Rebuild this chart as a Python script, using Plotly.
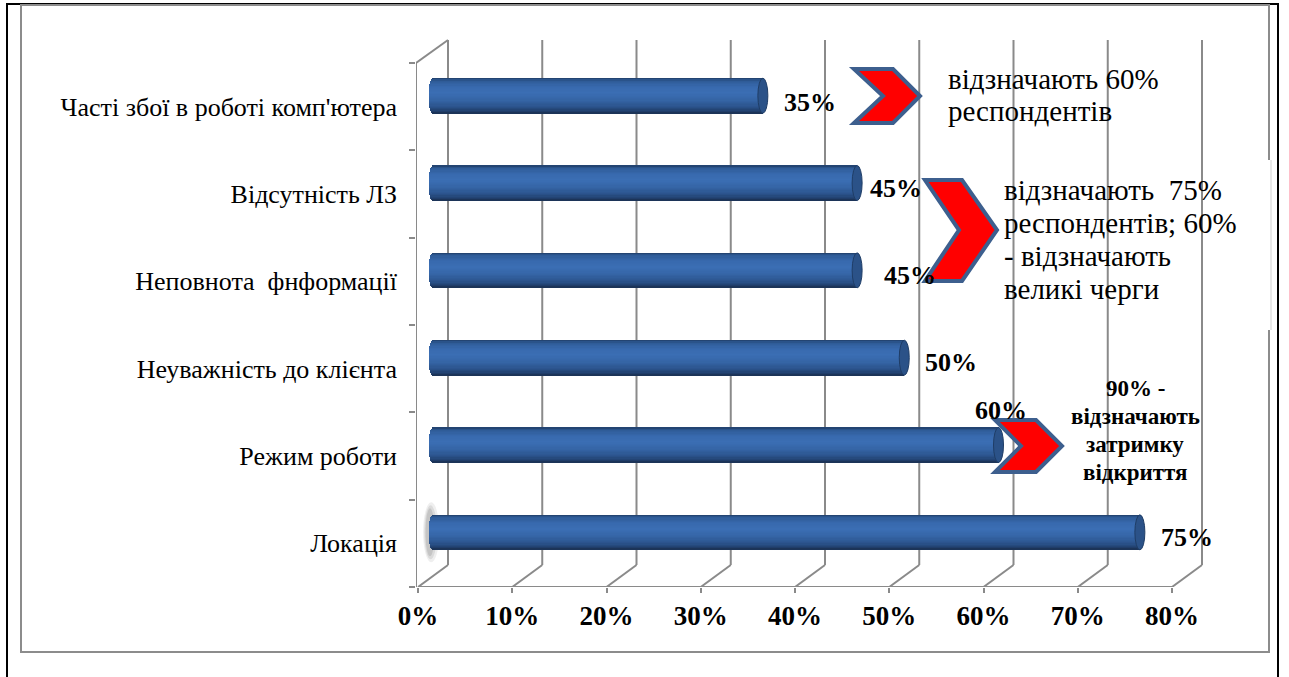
import numpy as np
import plotly.graph_objects as go

# ---------------------------------------------------------------- data
categories = [
    "Локація",
    "Режим роботи",
    "Неуважність до клієнта",
    "Неповнота\u00a0 фнформації",
    "Відсутність ЛЗ",
    "Часті збої в роботі комп'ютера",
]
values = [75, 60, 50, 45, 45, 35]
x_ticks = [0, 10, 20, 30, 40, 50, 60, 70, 80]
x_tick_labels = [f"{t}%" for t in x_ticks]

note_top = ["відзначають 60%", "респондентів"]
note_mid = ["відзначають\u00a0 75%", "респондентів; 60%", "- відзначають", "великі черги"]
note_low = ["90% -", "відзначають", "затримку", "відкриття"]

# ---------------------------------------------------------------- layout geometry (pixels)
W, H = 1289, 677
PL, PR, PT, PB = 416, 1262, 30, 587          # plot area
X0_PX, PX_PER_PCT = 418, 9.425               # 0% on the front floor edge
PX_PER_CAT = 87.33
XMIN = (PL - X0_PX) / PX_PER_PCT
XMAX = (PR - X0_PX) / PX_PER_PCT
YMAX = (PB - PT) / PX_PER_CAT
DX = 30 / PX_PER_PCT                         # 3-D depth, x direction
DY = 22 / PX_PER_CAT                         # 3-D depth, y direction
WALL_TOP = (PB - 40) / PX_PER_CAT
N_CAT = len(categories)

BASE = DX / 2                                # bars sit at mid depth
BAR_H = 35 / PX_PER_CAT
CAP_L = 4.5 / PX_PER_PCT
CAP_R = 5.0 / PX_PER_PCT
bar_y = [i + 0.5 + DY / 2 for i in range(N_CAT)]

GRID = "#8a8a8a"
SERIF = "Liberation Serif, Times New Roman, serif"


def pxx(px):
    return (px - PL) / (PR - PL)


def pxy(py):
    return (PB - py) / (PB - PT)


def hex2rgb(h):
    h = h.lstrip("#")
    return np.array([int(h[i:i + 2], 16) for i in (0, 2, 4)], float)


# cylinder shading, top -> bottom
grad_pos = [0.0, 0.07, 0.25, 0.42, 0.62, 0.82, 0.94, 1.0]
grad_col = ["#1f3c66", "#2e5a95", "#386aae", "#3b6eb4", "#3565a6", "#2b538c", "#213f6c", "#1a3050"]
grad_rgb = np.array([hex2rgb(c) for c in grad_col])


def shade(t):
    r = [np.interp(t, grad_pos, grad_rgb[:, k]) for k in range(3)]
    return "rgb(%d,%d,%d)" % tuple(int(round(v)) for v in r)


fig = go.Figure()

N_STRIP = 28
hs = BAR_H / N_STRIP
for i in range(N_STRIP):
    yrel = BAR_H / 2 - (i + 0.5) * hs
    f = yrel / (BAR_H / 2)
    ext = CAP_L * np.sqrt(max(0.0, 1 - f * f))
    fig.add_trace(go.Bar(
        orientation="h",
        y=bar_y,
        x=[v + ext for v in values],
        base=[BASE - ext] * N_CAT,
        width=hs * 1.25,
        offset=yrel - hs * 0.625,
        marker=dict(color=shade((i + 0.5) / N_STRIP), line=dict(width=0)),
        hoverinfo="skip",
        showlegend=False,
    ))

shapes = []

# soft shadow behind the left end of the lowest cylinder
for a, b, op in [(9, 30, 0.10), (7, 27, 0.14), (5, 24, 0.18)]:
    shapes.append(dict(
        type="circle", xref="x", yref="y", layer="below",
        x0=BASE - CAP_L - a / PX_PER_PCT * 0.6, x1=BASE - CAP_L + a / PX_PER_PCT * 1.2,
        y0=bar_y[0] - b / PX_PER_CAT, y1=bar_y[0] + b / PX_PER_CAT,
        fillcolor="#666666", opacity=op, line=dict(width=0),
    ))

# 3-D floor and back wall grid
for t in x_ticks:
    shapes.append(dict(type="line", xref="x", yref="y", layer="below",
                       x0=t, y0=0, x1=t + DX, y1=DY, line=dict(color=GRID, width=2)))
    shapes.append(dict(type="line", xref="x", yref="y", layer="below",
                       x0=t + DX, y0=DY, x1=t + DX, y1=WALL_TOP, line=dict(color=GRID, width=2)))
shapes.append(dict(type="line", xref="x", yref="y", layer="below",
                   x0=0, y0=0, x1=x_ticks[-1], y1=0, line=dict(color=GRID, width=2)))
shapes.append(dict(type="line", xref="x", yref="y", layer="below",
                   x0=XMIN, y0=0, x1=XMIN, y1=N_CAT, line=dict(color=GRID, width=2)))
shapes.append(dict(type="line", xref="x", yref="y", layer="below",
                   x0=XMIN, y0=N_CAT, x1=DX, y1=WALL_TOP, line=dict(color=GRID, width=2)))

# outer frames
shapes.append(dict(type="rect", xref="paper", yref="paper", layer="below",
                   x0=pxx(7), x1=pxx(1278), y0=pxy(700), y1=pxy(4),
                   line=dict(color="black", width=2), fillcolor="rgba(0,0,0,0)"))
shapes.append(dict(type="rect", xref="paper", yref="paper", layer="below",
                   x0=pxx(21), x1=pxx(1269), y0=pxy(652), y1=pxy(5),
                   line=dict(color="#8c8c8c", width=2), fillcolor="rgba(0,0,0,0)"))

# white text boxes over the grid
for (x0, y0, x1, y1) in [(926, 48, 1266, 152), (926, 160, 1273, 330), (1022, 364, 1215, 511)]:
    shapes.append(dict(type="rect", xref="paper", yref="paper", layer="below",
                       x0=pxx(x0), x1=pxx(x1), y0=pxy(y1), y1=pxy(y0),
                       line=dict(width=0), fillcolor="white"))
shapes.append(dict(type="line", xref="paper", yref="paper", layer="below",
                   x0=pxx(1271), x1=pxx(1271), y0=pxy(330), y1=pxy(160),
                   line=dict(color="#d0d0d0", width=1)))

# cylinder end faces
for v, yc in zip(values, bar_y):
    shapes.append(dict(type="circle", xref="x", yref="y", layer="above",
                       x0=BASE + v - CAP_R, x1=BASE + v + CAP_R,
                       y0=yc - BAR_H / 2, y1=yc + BAR_H / 2,
                       fillcolor="#2b5288", line=dict(color="#1f3d66", width=1)))


# chevron callout arrows
def chevron(x_left, x_top, x_tip, x_notch, y_top, y_mid, y_bot):
    pts = [(x_left, y_top), (x_top, y_top), (x_tip, y_mid), (x_top, y_bot),
           (x_left, y_bot), (x_notch, y_mid)]
    d = "M " + " L ".join(f"{pxx(a):.5f},{pxy(b):.5f}" for a, b in pts) + " Z"
    return dict(type="path", xref="paper", yref="paper", layer="above", path=d,
                fillcolor="#ff0000", line=dict(color="#3d5f8e", width=4))


shapes.append(chevron(854, 893, 920, 883, 69, 96, 123))
shapes.append(chevron(925, 962, 997, 959, 180, 230, 281))
shapes.append(chevron(995, 1036, 1062, 1021, 420, 446, 472))

fig.update_layout(shapes=shapes)

# value labels
label_dx = [42, -3, 42, 48, 34, 42]
label_dy = [5, -35, 5, 5, 5, 7]
annotations = []
for v, yc, dx, dy in zip(values, bar_y, label_dx, label_dy):
    annotations.append(dict(
        x=BASE + v + CAP_R, y=yc, xref="x", yref="y", text=f"{v}%",
        xshift=dx, yshift=-dy, showarrow=False, xanchor="center", yanchor="middle",
        font=dict(family=SERIF, size=26, color="black", weight="bold"),
    ))

for line, yc in zip(note_top, [79, 111]):
    annotations.append(dict(x=pxx(946), y=pxy(yc), xref="paper", yref="paper", text=line,
                            showarrow=False, xanchor="left", yanchor="middle",
                            font=dict(family=SERIF, size=29, color="black")))
for line, yc in zip(note_mid, [190, 223, 256, 289]):
    annotations.append(dict(x=pxx(1002), y=pxy(yc), xref="paper", yref="paper", text=line,
                            showarrow=False, xanchor="left", yanchor="middle",
                            font=dict(family=SERIF, size=29, color="black")))
for line, yc in zip(note_low, [388, 416, 444, 472]):
    annotations.append(dict(x=pxx(1135), y=pxy(yc), xref="paper", yref="paper", text=line,
                            showarrow=False, xanchor="center", yanchor="middle",
                            font=dict(family=SERIF, size=23, color="black", weight="bold")))
fig.update_layout(annotations=annotations)

fig.update_layout(
    width=W, height=H,
    margin=dict(l=PL, r=W - PR, t=PT, b=H - PB, pad=0, autoexpand=False),
    paper_bgcolor="white", plot_bgcolor="white",
    barmode="overlay", bargap=0, showlegend=False,
    xaxis=dict(
        range=[XMIN, XMAX], showgrid=False, zeroline=False, showline=False,
        tickmode="array", tickvals=x_ticks, ticktext=x_tick_labels,
        ticks="outside", ticklen=5, tickwidth=2, tickcolor=GRID,
        tickfont=dict(family=SERIF, size=27, color="black", weight="bold"),
        fixedrange=True,
    ),
    yaxis=dict(
        range=[0, YMAX], showgrid=False, zeroline=False, showline=False,
        tickmode="array", tickvals=[i + 0.5 for i in range(N_CAT)], ticktext=categories,
        ticks="", ticklabelstandoff=18,
        minor=dict(tickmode="array", tickvals=list(range(N_CAT + 1)), ticks="outside",
                   ticklen=6, tickwidth=2, tickcolor=GRID, showgrid=False),
        tickfont=dict(family=SERIF, size=26, color="black"),
        fixedrange=True,
    ),
)

fig.write_html("out.html")
